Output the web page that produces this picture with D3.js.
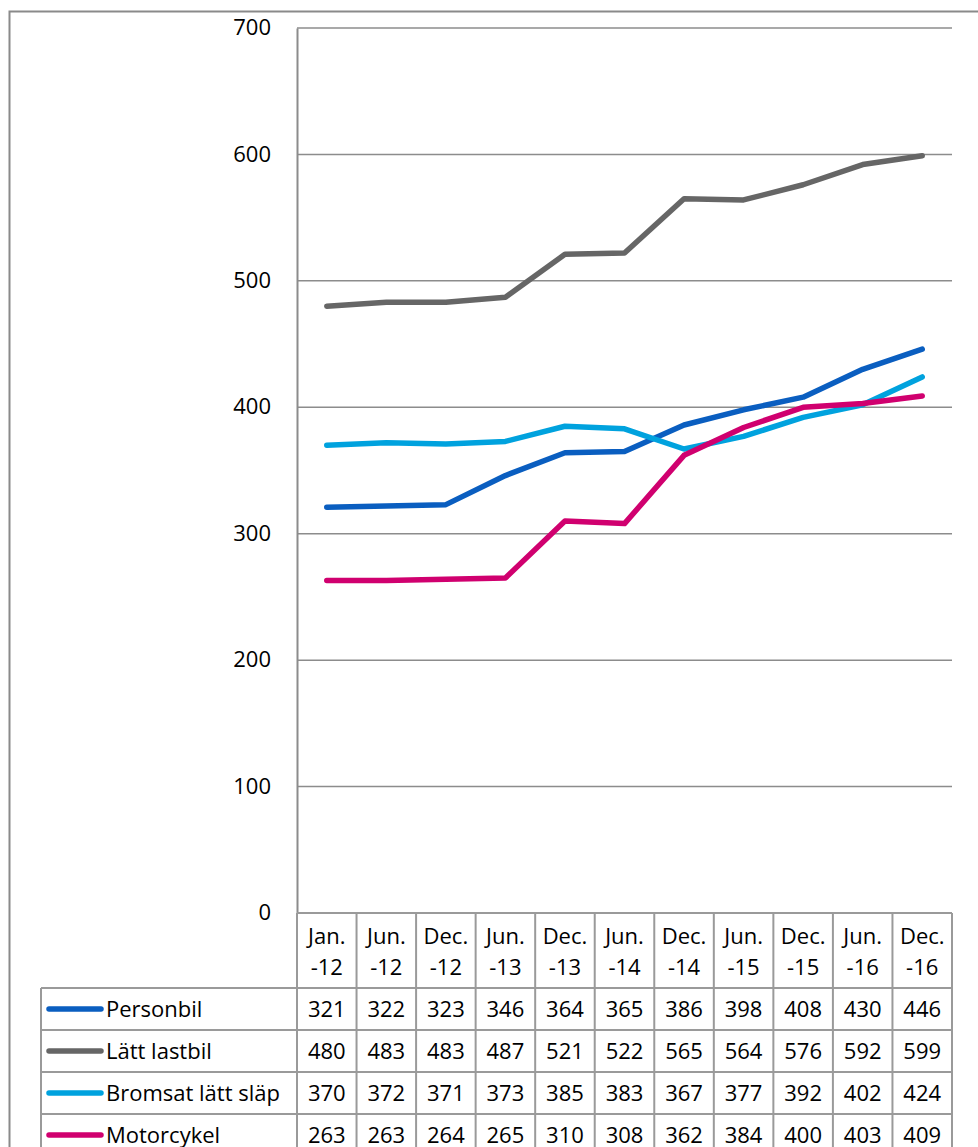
<!DOCTYPE html>
<html>
<head>
<meta charset="utf-8">
<script src="https://cdn.jsdelivr.net/npm/d3@7"></script>
<style>
  html, body { margin: 0; padding: 0; background: #fff; }
  svg { display: block; }
  text { font-family: "Open Sans", "Noto Sans", sans-serif; fill: #000; }
</style>
</head>
<body>
<script>
// Periods (two-line column headers)
const periodsTop = ["Jan.", "Jun.", "Dec.", "Jun.", "Dec.", "Jun.", "Dec.", "Jun.", "Dec.", "Jun.", "Dec."];
const periodsBottom = ["-12", "-12", "-12", "-13", "-13", "-14", "-14", "-15", "-15", "-16", "-16"];

// Series
const personbil = [321, 322, 323, 346, 364, 365, 386, 398, 408, 430, 446];
const lattLastbil = [480, 483, 483, 487, 521, 522, 565, 564, 576, 592, 599];
const bromsatSlap = [370, 372, 371, 373, 385, 383, 367, 377, 392, 402, 424];
const motorcykel = [263, 263, 264, 265, 310, 308, 362, 384, 400, 403, 409];

const seriesNames = ["Personbil", "Lätt lastbil", "Bromsat lätt släp", "Motorcykel"];
const seriesValues = [personbil, lattLastbil, bromsatSlap, motorcykel];
const seriesColors = ["#0A5EC0", "#666666", "#00A2DE", "#D0006F"];

const yTicks = [0, 100, 200, 300, 400, 500, 600, 700];

const W = 978, H = 1147;
const plot = { left: 297, right: 952, top: 28, bottom: 913 };
const headerH = 75, rowH = 42, legendLeft = 41;
const gridColor = "#8c8c8c", cellColor = "#9a9a9a";
const fontSize = 22;

const svg = d3.select("body").append("svg").attr("width", W).attr("height", H);

// Outer chart frame
svg.append("rect")
  .attr("x", 9.5).attr("y", 11.5)
  .attr("width", W + 20).attr("height", H + 20)
  .attr("fill", "none").attr("stroke", "#8a8a8a").attr("stroke-width", 2);

const x = d3.scaleBand().domain(d3.range(periodsTop.length))
  .range([plot.left, plot.right]).padding(0);
const y = d3.scaleLinear().domain([0, 700]).range([plot.bottom, plot.top]);

// Horizontal gridlines
svg.append("g").selectAll("line").data(yTicks.filter(d => d > 0)).join("line")
  .attr("x1", plot.left).attr("x2", plot.right)
  .attr("y1", d => y(d)).attr("y2", d => y(d))
  .attr("stroke", gridColor).attr("stroke-width", 1.5);

// Value axis
const yAxis = d3.axisLeft(y).tickValues(yTicks).tickSize(0).tickPadding(26);
const yg = svg.append("g").attr("transform", `translate(${plot.left},0)`).call(yAxis);
yg.select(".domain").attr("stroke", gridColor).attr("stroke-width", 2);
yg.selectAll(".tick text")
  .attr("font-size", fontSize).attr("font-family", "'Open Sans', sans-serif")
  .attr("dy", "0.3em").attr("fill", "#000");

// Lines
const line = d3.line()
  .x((d, i) => x(i) + x.bandwidth() / 2)
  .y(d => y(d));
svg.append("g").selectAll("path").data(seriesValues).join("path")
  .attr("d", line)
  .attr("fill", "none")
  .attr("stroke", (d, i) => seriesColors[i])
  .attr("stroke-width", 5.5)
  .attr("stroke-linejoin", "round")
  .attr("stroke-linecap", "round");

// Data table
const table = svg.append("g");
const headTop = plot.bottom;
const rowsTop = headTop + headerH;
const tableBottom = rowsTop + rowH * seriesNames.length + 20;

// Header top border
table.append("line")
  .attr("x1", plot.left).attr("x2", plot.right)
  .attr("y1", headTop).attr("y2", headTop)
  .attr("stroke", cellColor).attr("stroke-width", 2);
// Row borders
table.selectAll("line.row").data(d3.range(seriesNames.length + 1)).join("line")
  .attr("class", "row")
  .attr("x1", legendLeft).attr("x2", plot.right)
  .attr("y1", i => rowsTop + i * rowH).attr("y2", i => rowsTop + i * rowH)
  .attr("stroke", cellColor).attr("stroke-width", 2);
// Column borders
const colEdges = d3.range(periodsTop.length + 1).map(i => i === periodsTop.length ? plot.right : x(i));
table.selectAll("line.col").data(colEdges).join("line")
  .attr("class", "col")
  .attr("x1", d => d).attr("x2", d => d)
  .attr("y1", headTop).attr("y2", tableBottom)
  .attr("stroke", cellColor).attr("stroke-width", 2);
table.append("line")
  .attr("x1", legendLeft).attr("x2", legendLeft)
  .attr("y1", rowsTop).attr("y2", tableBottom)
  .attr("stroke", cellColor).attr("stroke-width", 2);

// Header labels
const head = table.append("g").selectAll("g").data(periodsTop).join("g")
  .attr("transform", (d, i) => `translate(${x(i) + x.bandwidth() / 2},0)`);
head.append("text").attr("y", headTop + 23).attr("dy", "0.35em")
  .attr("text-anchor", "middle").attr("font-size", fontSize).text(d => d);
head.append("text").attr("y", headTop + 54).attr("dy", "0.35em")
  .attr("text-anchor", "middle").attr("font-size", fontSize).text((d, i) => periodsBottom[i]);

// Legend cells and values
const rows = table.append("g").selectAll("g").data(seriesNames).join("g")
  .attr("transform", (d, i) => `translate(0,${rowsTop + i * rowH + rowH / 2})`);
rows.append("line")
  .attr("x1", 49).attr("x2", 101).attr("y1", 0).attr("y2", 0)
  .attr("stroke", (d, i) => seriesColors[i]).attr("stroke-width", 5.5)
  .attr("stroke-linecap", "round");
rows.append("text").attr("x", 106).attr("dy", "0.35em")
  .attr("font-size", fontSize).text(d => d);
rows.each(function(name, si) {
  d3.select(this).selectAll("text.v").data(seriesValues[si]).join("text")
    .attr("class", "v")
    .attr("x", (d, i) => x(i) + x.bandwidth() / 2)
    .attr("dy", "0.35em")
    .attr("text-anchor", "middle").attr("font-size", fontSize)
    .text(d => d);
});
</script>
</body>
</html>
